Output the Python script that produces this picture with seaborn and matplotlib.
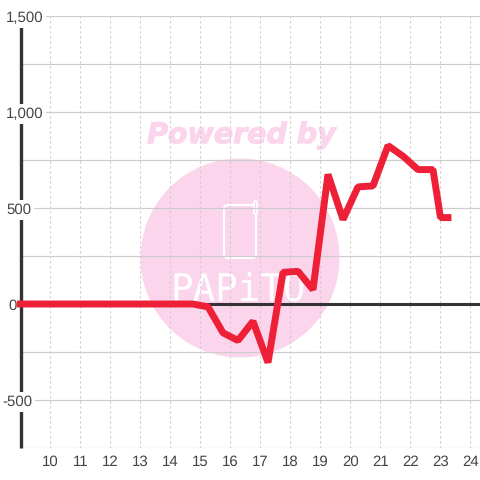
import matplotlib
matplotlib.use("Agg")
import matplotlib.pyplot as plt
import matplotlib.patheffects as pe
from matplotlib.patches import Circle, FancyBboxPatch
import pandas as pd
import seaborn as sns

# Series values
hours = [9, 10, 11, 12, 13, 14, 14.75, 15.25, 15.75, 16.25, 16.75, 17.25, 17.75, 18.25,
         18.75, 19.25, 19.75, 20.25, 20.75, 21.25, 21.75, 22.25, 22.75, 23, 23.25]
values = [0, 0, 0, 0, 0, 0, 0, -15, -150, -190, -90, -305, 165, 170,
          75, 675, 440, 610, 615, 825, 770, 700, 700, 450, 450]
x_ticks = list(range(10, 25))
y_ticks = [-500, 0, 500, 1000, 1500]
y_labels = ["-500", "0", "500", "1,000", "1,500"]
y_minor = [-750, -250, 250, 750, 1250]

df = pd.DataFrame({"hour": hours, "value": values})

sns.set_style("white")
plt.rcParams["font.family"] = ["Liberation Sans", "DejaVu Sans"]
plt.rcParams["text.hinting"] = "no_hinting"

fig = plt.figure(figsize=(4.8, 4.8), dpi=100)
ax = fig.add_axes([20.5 / 480, 32 / 480, 459.5 / 480, 432 / 480])
ax.set_xlim(9, 24.317)
ax.set_ylim(-750, 1500)

# Watermark behind the grid
pink = "#fbd5ec"
wm = fig.add_axes([0, 0, 1, 1], zorder=-1)
wm.set_xlim(0, 480)
wm.set_ylim(480, 0)
wm.axis("off")
wm.add_patch(Circle((240, 258), 99.5, color=pink, lw=0))
wm.text(241.5, 135.5, "Powered by", color=pink, fontsize=20.5, fontweight="bold", style="italic",
        family="DejaVu Sans", ha="center", va="center",
        path_effects=[pe.withStroke(linewidth=0.8, foreground=pink)])
wm.add_patch(FancyBboxPatch((224, 205), 32, 53, boxstyle="round,pad=0,rounding_size=4",
                            fc="none", ec="white", lw=1.5))
wm.plot([254.5, 254.5], [202, 212], color="white", lw=3.5, solid_capstyle="round")
wm.plot([254.5, 254.5], [202, 212], color=pink, lw=1, solid_capstyle="round")
wm.text(238.5, 291, "PAPiTO", color="white", fontsize=27, family="DejaVu Sans Mono",
        ha="center", va="center")
wm.set_xlim(0, 480)
wm.set_ylim(480, 0)

ax.patch.set_alpha(0)
for s in ax.spines.values():
    s.set_visible(False)

# Grid
for y in y_ticks[2:] + y_ticks[:1] + y_minor:
    ax.axhline(y, color="#cccccc", lw=0.85, zorder=1)
for x in x_ticks:
    ax.axvline(x, color="#cccccc", lw=0.8, ls=(0, (2, 2.5)), zorder=1)
ax.axhline(0, color="#333333", lw=2.2, zorder=2)
ax.axvline(9, color="#333333", lw=2.4, zorder=2, solid_capstyle="butt", clip_on=False)

sns.lineplot(data=df, x="hour", y="value", color="#ee2038", lw=5, ax=ax, zorder=5,
             errorbar=None, solid_capstyle="projecting", solid_joinstyle="bevel", clip_on=False)

ax.set_xlabel("")
ax.set_ylabel("")
ax.set_xticks(x_ticks)
ax.set_xticklabels([str(t) for t in x_ticks], fontsize=10.8, color="#444444")
ax.tick_params(axis="x", length=0, pad=5)
ax.set_yticks([])

# y labels sit on top of the axis with a white box behind them
for y, lab in zip(y_ticks, y_labels):
    left = 2 if lab.startswith("-") else 6
    if lab == "0":
        left = 8
    ax.annotate(lab, (0, y), xycoords=("figure pixels", "data"), xytext=(left, -2),
                textcoords="offset pixels", fontsize=10.8, color="#444444", ha="left", va="center",
                zorder=4, annotation_clip=False,
                bbox=dict(fc="white", ec="none", pad=2))

fig.savefig("out.png", dpi=100)
